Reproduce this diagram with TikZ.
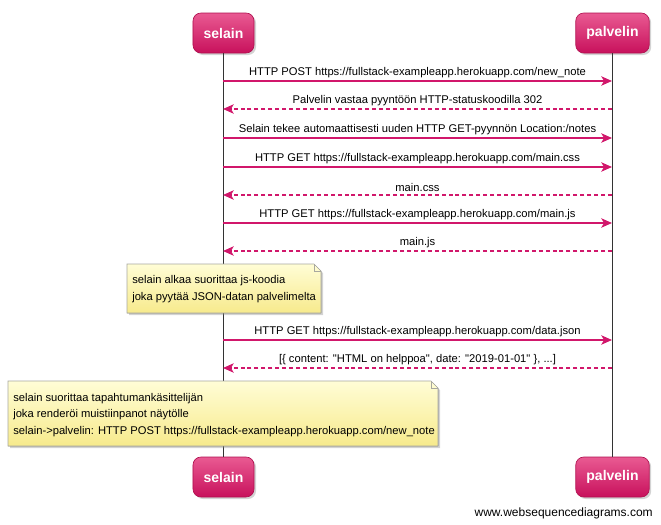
\documentclass[tikz,border=0pt]{standalone}
\usepackage{fontspec}
\setmainfont{Liberation Sans}[Ligatures=TeXOff]
\usetikzlibrary{arrows.meta,shadows}

\definecolor{actortop}{HTML}{E95A92}
\definecolor{actorbot}{HTML}{C8115C}
\definecolor{actorline}{HTML}{B0104F}
\definecolor{msgpink}{HTML}{D1176B}
\definecolor{notetop}{HTML}{FFFDD6}
\definecolor{notebot}{HTML}{F7EA8C}
\definecolor{noteline}{HTML}{A8A8A0}

\tikzset{
  actor/.style={rounded corners=6pt, top color=actortop, bottom color=actorbot,
    draw=actorline, line width=0.5pt, text=white,
    font=\fontsize{10.5}{12}\selectfont\bfseries,
    minimum height=30pt, minimum width=45.75pt, inner xsep=8pt,
    drop shadow={shadow xshift=1.5pt, shadow yshift=-1.5pt, opacity=0.35}},
  lifeline/.style={line width=0.6pt, black!80},
  msg/.style={msgpink, line width=1.1pt,
    -{Stealth[length=8pt,width=7pt,inset=2pt]}},
  reply/.style={msg, dash pattern=on 3pt off 2.2pt},
  msglabel/.style={above=1.8pt, inner sep=0pt, text=black,
    font=\fontsize{8.4}{10}\selectfont},
  notebox/.style={top color=notetop, bottom color=notebot, draw=noteline,
    line width=0.5pt,
    drop shadow={shadow xshift=1.5pt, shadow yshift=-1.5pt, opacity=0.35}},
  notetext/.style={anchor=west, align=left, inner sep=0pt,
    font=\fontsize{8.4}{12.5}\selectfont}
}

\begin{document}
\begin{tikzpicture}[x=0.75pt,y=-0.75pt]
      \useasboundingbox (0,0) rectangle (661,525);

      \node[actor] (sTop) at (223.5,33) {selain};
      \node[actor] (pTop) at (612.5,33) {palvelin};
      \node[actor] (sBot) at (223.5,477) {selain};
      \node[actor] (pBot) at (612.5,477) {palvelin};

      \draw[lifeline] (sTop) -- (sBot);
      \draw[lifeline] (pTop) -- (pBot);

      \coordinate (s1) at (223,81);  \coordinate (p1) at (612,81);
      \coordinate (s2) at (223,109); \coordinate (p2) at (612,109);
      \coordinate (s3) at (223,138); \coordinate (p3) at (612,138);
      \coordinate (s4) at (223,167); \coordinate (p4) at (612,167);
      \coordinate (s5) at (223,195); \coordinate (p5) at (612,195);
      \coordinate (s6) at (223,223); \coordinate (p6) at (612,223);
      \coordinate (s7) at (223,251); \coordinate (p7) at (612,251);
      \coordinate (s8) at (223,340); \coordinate (p8) at (612,340);
      \coordinate (s9) at (223,368); \coordinate (p9) at (612,368);

      \draw[msg]   (s1) -- node[msglabel] {HTTP POST https://fullstack-exampleapp.herokuapp.com/new\_note} (p1);
      \draw[reply] (p2) -- node[msglabel] {Palvelin vastaa pyyntöön HTTP-statuskoodilla 302} (s2);
      \draw[msg]   (s3) -- node[msglabel] {Selain tekee automaattisesti uuden HTTP GET-pyynnön Location:/notes} (p3);
      \draw[msg]   (s4) -- node[msglabel] {HTTP GET https://fullstack-exampleapp.herokuapp.com/main.css} (p4);
      \draw[reply] (p5) -- node[msglabel] {main.css} (s5);
      \draw[msg]   (s6) -- node[msglabel] {HTTP GET https://fullstack-exampleapp.herokuapp.com/main.js} (p6);
      \draw[reply] (p7) -- node[msglabel] {main.js} (s7);
      \draw[msg]   (s8) -- node[msglabel] {HTTP GET https://fullstack-exampleapp.herokuapp.com/data.json} (p8);
      \draw[reply] (p9) -- node[msglabel] {[\{ content: "HTML on helppoa", date: "2019-01-01" \}, ...]} (s9);

      \filldraw[notebox] (127,264) -- (314,264) -- (321,271) -- (321,313) -- (127,313) -- cycle;
      \draw[noteline, line width=0.5pt] (314,264) -- (314,271) -- (321,271);
      \node[notetext] (note1) at (132,289) {selain alkaa suorittaa js-koodia\\joka pyytää JSON-datan palvelimelta};

      \filldraw[notebox] (8,381) -- (431,381) -- (438,388) -- (438,446) -- (8,446) -- cycle;
      \draw[noteline, line width=0.5pt] (431,381) -- (431,388) -- (438,388);
      \node[notetext] (note2) at (13,415) {selain suorittaa tapahtumankäsittelijän\\joka renderöi muistiinpanot näytölle\\selain->palvelin: HTTP POST https://fullstack-exampleapp.herokuapp.com/new\_note};

      \node[anchor=east, inner sep=0pt, font=\fontsize{9}{11}\selectfont] (wsd) at (653,513) {www.websequencediagrams.com};
    \end{tikzpicture}
\end{document}
